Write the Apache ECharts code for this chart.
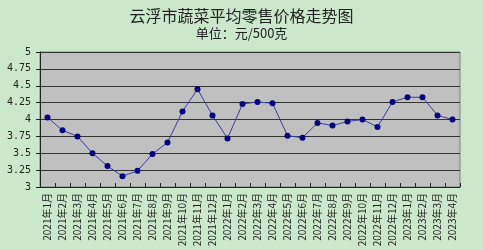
<!DOCTYPE html>
<html><head><meta charset="utf-8">
<script src="https://cdn.jsdelivr.net/npm/echarts@6/dist/echarts.min.js"></script>
<style>html,body{margin:0;padding:0;background:#cce8cc}#c{width:483px;height:250px}</style>
</head><body><div id="c"></div>
<script>
var categories = ['2021年1月','2021年2月','2021年3月','2021年4月','2021年5月','2021年6月','2021年7月','2021年8月','2021年9月','2021年10月','2021年11月','2021年12月',
'2022年1月','2022年2月','2022年3月','2022年4月','2022年5月','2022年6月','2022年7月','2022年8月','2022年9月','2022年10月','2022年11月','2022年12月',
'2023年1月','2023年2月','2023年3月','2023年4月'];
var prices = [4.03,3.84,3.75,3.50,3.31,3.16,3.24,3.49,3.66,4.12,4.45,4.06,3.72,4.23,4.26,4.24,3.76,3.73,3.95,3.91,3.97,4.00,3.89,4.26,4.33,4.33,4.06,4.00];
var yTicks = ['3','3.25','3.5','3.75','4','4.25','4.5','4.75','5'];
var chart = echarts.init(document.getElementById('c'));
chart.setOption({
  backgroundColor:'#cce8cc',
  animation:false,
  title:[{text:'云浮市蔬菜平均零售价格走势图',left:'center',top:3,textStyle:{fontSize:16,fontWeight:'normal',color:'#222',fontFamily:'Noto Sans CJK SC'}},
         {text:'单位：元/500克',left:'center',top:22,textStyle:{fontSize:13,fontWeight:'normal',color:'#222',fontFamily:'Noto Sans CJK SC'}}],
  grid:{left:40,right:23,top:52,bottom:63,show:true,backgroundColor:'#c0c0c0',borderColor:'#808080',borderWidth:1},
  xAxis:{type:'category',data:categories,boundaryGap:true,
    axisLine:{lineStyle:{color:'#222',width:1}},
    axisTick:{show:true,inside:true,length:4,lineStyle:{color:'#222'}},
    axisLabel:{rotate:90,fontSize:10,color:'#222',margin:6,fontFamily:'Noto Sans CJK SC'}},
  yAxis:{type:'value',min:3,max:5,interval:0.25,
    axisLine:{show:true,lineStyle:{color:'#222',width:1}},
    axisTick:{show:true,length:4,lineStyle:{color:'#222'}},
    splitLine:{lineStyle:{color:'#333',width:1}},
    axisLabel:{fontSize:10,color:'#222',margin:9,fontFamily:'DejaVu Sans Mono',formatter:function(v){var i=Math.round((v-3)/0.25);return yTicks[i];}}},
  series:[{type:'line',data:prices,symbol:'circle',symbolSize:6,
    lineStyle:{color:'#3a3aa0',width:1},itemStyle:{color:'#000080'}}]
});
</script></body></html>
